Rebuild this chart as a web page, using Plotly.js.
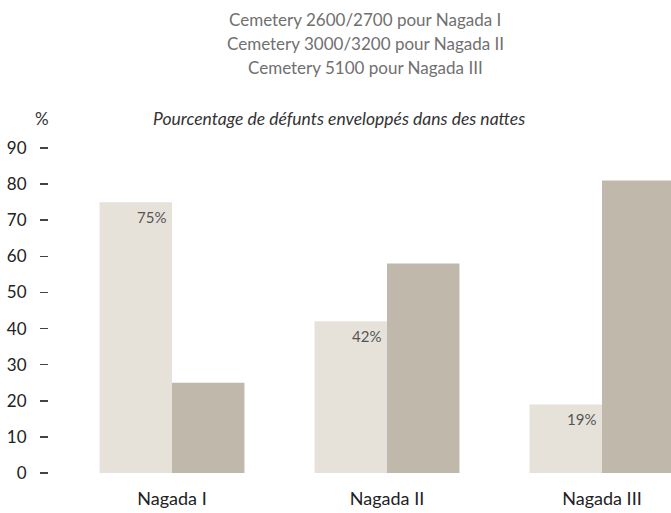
<!DOCTYPE html>
<html>
<head>
<meta charset="utf-8">
<script src="https://cdn.plot.ly/plotly-3.0.1.min.js"></script>
<style>html,body{margin:0;padding:0;background:#fff;}#chart{width:671px;height:513px;}</style>
</head>
<body>
<div id="chart"></div>
<script>
const categories = ["Nagada I", "Nagada II", "Nagada III"];
const wrapped = [75, 42, 19];
const notWrapped = [25, 58, 81];
const yTicks = [0, 10, 20, 30, 40, 50, 60, 70, 80, 90];
const headerLines = [
  "Cemetery 2600/2700 pour Nagada I",
  "Cemetery 3000/3200 pour Nagada II",
  "Cemetery 5100 pour Nagada III"
];
const subtitle = "Pourcentage de défunts enveloppés dans des nattes";

const FONT = "Lato, 'Open Sans', sans-serif";
const ML = 48, MR = 0, MT = 148, MB = 40, W = 671, H = 513;
const pw = W - ML - MR, ph = H - MT - MB;
const px2x = px => (px - ML) / pw;
const py2y = py => (H - MB - py) / ph;

const traces = [
  {type: "bar", x: categories, y: wrapped, marker: {color: "#e6e2da"}, hoverinfo: "skip", showlegend: false},
  {type: "bar", x: categories, y: notWrapped, marker: {color: "#c0b8ab"}, hoverinfo: "skip", showlegend: false}
];

const annotations = [];
headerLines.forEach((t, i) => {
  annotations.push({text: t, xref: "paper", yref: "paper", x: px2x(365), y: py2y(19 + 24 * i),
    xanchor: "center", yanchor: "middle", showarrow: false,
    font: {family: FONT, size: 17, color: "#707070"}});
});
annotations.push({text: "<i>" + subtitle + "</i>", xref: "paper", yref: "paper", x: px2x(339), y: py2y(118),
  xanchor: "center", yanchor: "middle", showarrow: false,
  font: {family: FONT, size: 17.5, color: "#333"}});
annotations.push({text: "%", xref: "paper", yref: "paper", x: px2x(42), y: py2y(118),
  xanchor: "center", yanchor: "middle", showarrow: false,
  font: {family: FONT, size: 17, color: "#333"}});
categories.forEach((c, i) => {
  annotations.push({text: wrapped[i] + "%", xref: "x", yref: "y", x: c, y: wrapped[i],
    xanchor: "right", yanchor: "top", xshift: -4, yshift: -4, showarrow: false,
    font: {family: FONT, size: 15, color: "#555"}});
});

const layout = {
  width: W, height: H,
  margin: {l: ML, r: MR, t: MT, b: MB, pad: 0},
  paper_bgcolor: "#fff", plot_bgcolor: "#fff",
  barmode: "group", bargap: 0.326, bargroupgap: 0,
  font: {family: FONT},
  xaxis: {
    domain: [px2x(64.5), 1],
    range: [-0.5, 2.321],
    showline: false, showgrid: false, zeroline: false, ticks: "",
    ticklabelstandoff: 13,
    tickfont: {family: FONT, size: 18, color: "#222"}
  },
  yaxis: {
    anchor: "free", position: 0,
    range: [0, 90],
    tickvals: yTicks,
    showline: false, showgrid: false, zeroline: false,
    ticks: "outside", ticklen: 8, tickwidth: 1.5, tickcolor: "#444",
    ticklabelstandoff: 10,
    tickfont: {family: FONT, size: 17, color: "#222"}
  },
  annotations: annotations
};

Plotly.newPlot("chart", traces, layout, {staticPlot: true, displayModeBar: false});
</script>
</body>
</html>
